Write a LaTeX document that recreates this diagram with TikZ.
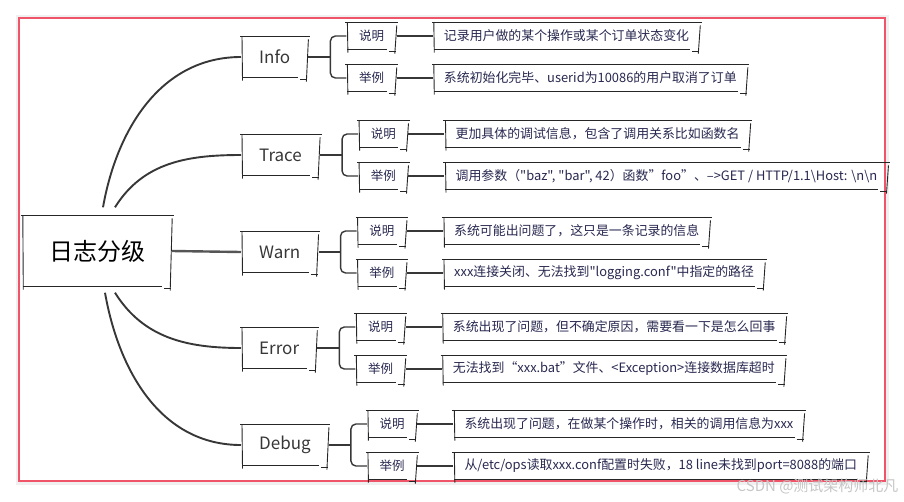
\documentclass[tikz,border=0pt]{standalone}
\usepackage{fontspec}
\setmainfont{Noto Sans CJK SC}[Ligatures=TeXOff]
\usetikzlibrary{positioning,calc}

\definecolor{frame}{RGB}{240,84,104}
\definecolor{ink}{RGB}{55,55,55}
\definecolor{navy}{RGB}{40,40,80}

% hand drawn outline round a node
\newcommand\sketch[1]{%
  \draw[rim] ([xshift=-1pt]#1.north west) -- ([xshift=1.5pt]#1.north east);
  \draw[rim] ([xshift=1pt]#1.north west) -- ([xshift=1.5pt,yshift=-3pt]#1.south west);
  \draw[rim] ([xshift=1pt]#1.south west) -- ([xshift=-10pt]#1.south east);
  \draw[rim] ([xshift=-8pt,yshift=-1.5pt]#1.south east) -- ([xshift=-1pt,yshift=-1.5pt]#1.south east);
  \draw[rim] ([yshift=-3pt]#1.north east) -- ([xshift=-2pt,yshift=-4pt]#1.south east);
}

\begin{document}
\begin{tikzpicture}[x=1pt, y=1pt,
  rootbox/.style={font=\fontsize{24}{28}\selectfont, text=black, minimum width=150pt, minimum height=71pt},
  level/.style={font=\fontsize{17}{20}\selectfont, text=ink, minimum height=41pt, inner xsep=18pt, anchor=west},
  tag/.style={font=\fontsize{12.5}{14}\selectfont, text=navy, minimum height=27pt, minimum width=50pt, inner sep=0pt},
  desc/.style={font=\fontsize{12.9}{15}\selectfont, text=navy, minimum height=27pt, inner xsep=11pt, inner ysep=0pt},
  branch/.style={ink, line width=1.9pt},
  fork/.style={ink, line width=1.4pt, rounded corners=5pt},
  link/.style={ink, line width=1.3pt},
  rim/.style={black!85, line width=0.9pt}]

\useasboundingbox (0,0) rectangle (904,-501);
\draw[gray!12, line width=3pt] (17,-16) rectangle (887,-483);
\draw[frame, line width=2pt] (19,-18) rectangle (885,-481);

% root and levels
\node[rootbox] (root) at (97,-251) {日志分级};
\node[level] (info) at (241,-57) {Info};
\node[level] (trace) at (241,-155) {Trace};
\node[level] (warn) at (241,-252) {Warn};
\node[level] (error) at (241,-348) {Error};
\node[level] (debug) at (241,-445) {Debug};

\draw[branch] ([xshift=6pt,yshift=8pt]root.north) to[out=80, in=180] (info.west);
\draw[branch] ([xshift=18pt,yshift=8pt]root.north) to[out=58, in=180] (trace.west);
\draw[branch, line width=2.4pt, ink!85] (root.east) -- (warn.west);
\draw[branch] ([xshift=18pt,yshift=-6pt]root.south) to[out=-58, in=180] (error.west);
\draw[branch] ([xshift=8pt,yshift=-6pt]root.south) to[out=-80, in=180] (debug.west);

% notes and examples
\foreach \p in {info,trace,warn,error,debug} {
  \node[tag, right=38pt of \p, yshift=21pt] (\p Note) {说明};
  \node[tag, right=38pt of \p, yshift=-21pt] (\p Eg) {举例};
}
\node[desc, right=36pt of infoNote] (infoNoteText) {记录用户做的某个操作或某个订单状态变化};
\node[desc, right=36pt of infoEg] (infoEgText) {系统初始化完毕、userid为10086的用户取消了订单};
\node[desc, right=36pt of traceNote] (traceNoteText) {更加具体的调试信息，包含了调用关系比如函数名};
\node[desc, right=36pt of traceEg] (traceEgText) {调用参数（"baz", "bar", 42）函数”foo”、–>GET / HTTP/1.1\textbackslash Host: \textbackslash n\textbackslash n};
\node[desc, right=36pt of warnNote] (warnNoteText) {系统可能出问题了，这只是一条记录的信息};
\node[desc, right=36pt of warnEg] (warnEgText) {xxx连接关闭、无法找到"logging.conf"中指定的路径};
\node[desc, right=36pt of errorNote] (errorNoteText) {系统出现了问题，但不确定原因，需要看一下是怎么回事};
\node[desc, right=36pt of errorEg] (errorEgText) {无法找到“xxx.bat”文件、<Exception>连接数据库超时};
\node[desc, right=36pt of debugNote] (debugNoteText) {系统出现了问题，在做某个操作时，相关的调用信息为xxx};
\node[desc, right=36pt of debugEg] (debugEgText) {从/etc/ops读取xxx.conf配置时失败，18 line未找到port=8088的端口};

\foreach \p in {info,trace,warn,error,debug} {
  \draw[fork] (\p.east) -- ++(22,0) coordinate (\p Fork);
  \draw[fork] (\p Note.west) -| (\p Fork) |- (\p Eg.west);
  \draw[link] (\p Note.east) -- (\p NoteText.west);
  \draw[link] (\p Eg.east) -- (\p EgText.west);
  \sketch{\p} \sketch{\p Note} \sketch{\p Eg} \sketch{\p NoteText} \sketch{\p EgText}
}
\sketch{root}

\node[font=\fontsize{15}{17}\selectfont, text=gray!45, anchor=east] (mark) at (902,-486) {CSDN @测试架构师北凡};
\end{tikzpicture}
\end{document}
